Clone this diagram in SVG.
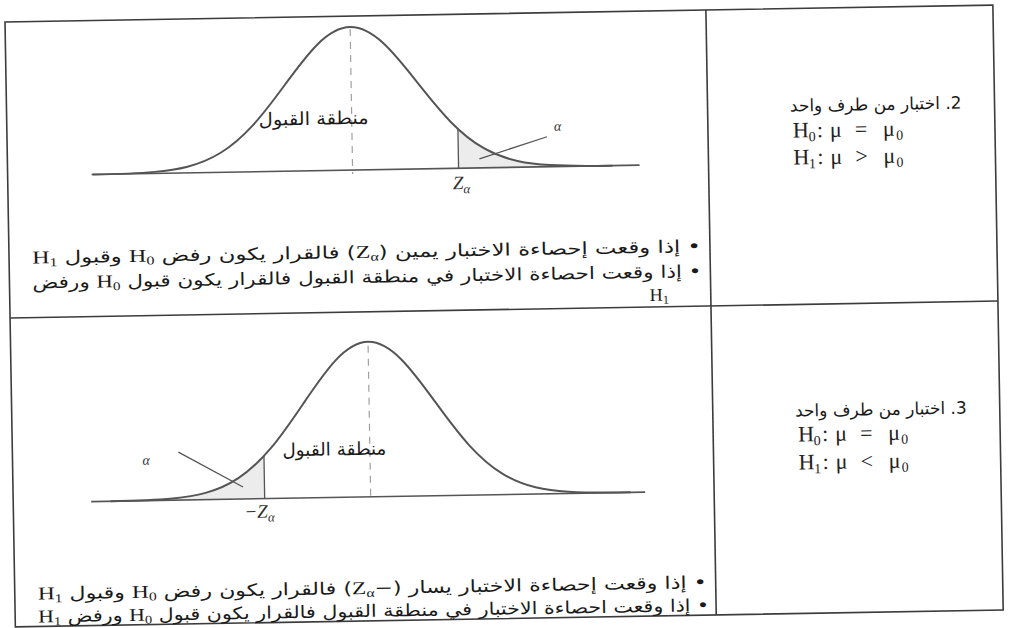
<svg xmlns="http://www.w3.org/2000/svg" xmlns:xlink="http://www.w3.org/1999/xlink" width="1009" height="628" viewBox="0 0 1009 628">
<style>
.frame{fill:none;stroke:#3c3c3c;stroke-width:1.6}
.curve{fill:none;stroke:#555;stroke-width:2}
.axis{stroke:#555;stroke-width:1.6}
.dash{stroke:#a0a0a0;stroke-width:1.2;stroke-dasharray:7 6}
.thin{stroke:#555;stroke-width:1.3}
.shade{fill:#ececec}
.ar{font-family:"DejaVu Sans",sans-serif;font-size:17px;fill:#1a1a1a}
.lat{font-family:"Liberation Serif",serif;font-size:18px}
.sub{font-size:12px}
.math{font-family:"Liberation Serif",serif;font-size:22px;fill:#222}
.msub{font-size:14px}
.it{font-family:"Liberation Serif",serif;font-style:italic;fill:#333}
</style>
<defs>
<path id="bell" vector-effect="non-scaling-stroke" d="M -260 0 C -239.33 0 -218.67 0.1 -198 1.59 C -176 3.17 -154 6.46 -132 19.35 C -121 25.8 -110 34.82 -99 46.43 C -88 58.04 -77 72.28 -66 86.73 C -55 101.18 -44 115.68 -33 126.2 C -22 136.72 -11 143 0 143 C 11 143 22 136.72 33 126.2 C 44 115.68 55 101.18 66 86.73 C 77 72.28 88 58.04 99 46.43 C 110 34.82 121 25.8 132 19.35 C 154 6.46 176 3.17 198 1.59 C 218.67 0.1 239.33 0 260 0"/>
<path id="tail" d="M 106 0 L 106 39.4 C 114.67 31.09 123.33 24.43 132 19.35 C 154 6.46 176 3.17 198 1.59 C 218.67 0.1 239.33 0 260 0 Z"/>
</defs>
<rect width="1009" height="628" fill="#fff"/>
<g transform="rotate(-0.98 5 22)">
<g id="table">
<rect class="frame" x="5" y="22" width="988" height="605"/>
<line class="frame" x1="706" y1="22" x2="706" y2="627"/>
<line class="frame" x1="5" y1="318" x2="993" y2="318"/>
</g>
<g id="graph-right-tail">
<use href="#tail" class="shade" transform="translate(350 176) scale(1 -1)"/>
<line class="axis" x1="89" y1="176" x2="637" y2="176"/>
<line class="dash" x1="350" y1="35" x2="350" y2="180"/>
<use href="#bell" class="curve" transform="translate(350 176) scale(1 -1)"/>
<line class="thin" x1="456" y1="136.6" x2="456" y2="176"/>
<line class="thin" x1="545" y1="146" x2="477" y2="167"/>
<text class="ar" x="312" y="130" text-anchor="middle" textLength="110" lengthAdjust="spacingAndGlyphs" style="font-size:18px">منطقة القبول</text>
<text class="it" x="552" y="140" style="font-size:14px">α</text>
<text class="it" x="450" y="197" style="font-size:19px">Z<tspan style="font-size:13px" dy="4">α</tspan></text>
</g>
<g id="case-2">
<text class="ar" x="960" y="125" direction="rtl" text-anchor="start">2. اختبار من طرف واحد</text>
<text class="math"><tspan x="791" y="151">H</tspan><tspan class="msub" x="806.5" y="155">0</tspan><tspan x="815" y="151">:</tspan><tspan x="828" y="151">μ</tspan><tspan x="853" y="151">=</tspan><tspan x="881" y="151">μ</tspan><tspan class="msub" x="894" y="155">0</tspan></text>
<text class="math"><tspan x="791" y="178">H</tspan><tspan class="msub" x="806.5" y="182">1</tspan><tspan x="815" y="178">:</tspan><tspan x="828" y="178">μ</tspan><tspan x="853" y="178">&gt;</tspan><tspan x="881" y="178">μ</tspan><tspan class="msub" x="894" y="182">0</tspan></text>
</g>
<g id="rules-2">
<text class="ar" x="697" y="264" direction="rtl" text-anchor="start" textLength="669" lengthAdjust="spacingAndGlyphs">• إذا وقعت إحصاءة الاختبار يمين (<tspan class="lat">Z</tspan><tspan class="lat sub" baseline-shift="-3">α</tspan>) فالقرار يكون رفض <tspan class="lat">H</tspan><tspan class="lat sub" baseline-shift="-3">0</tspan> وقبول <tspan class="lat">H</tspan><tspan class="lat sub" baseline-shift="-3">1</tspan></text>
<text class="ar" x="697" y="289" direction="rtl" text-anchor="start" textLength="669" lengthAdjust="spacingAndGlyphs">• إذا وقعت احصاءة الاختبار في منطقة القبول فالقرار يكون قبول <tspan class="lat">H</tspan><tspan class="lat sub" baseline-shift="-3">0</tspan> ورفض</text>
<text class="ar" x="664" y="312" text-anchor="end"><tspan class="lat">H</tspan><tspan class="lat sub" baseline-shift="-3">1</tspan></text>
</g>
<g id="graph-left-tail">
<use href="#tail" class="shade" transform="translate(362.5 503) scale(-1 -1.084)"/>
<line class="axis" x1="83" y1="503" x2="637" y2="503"/>
<line class="dash" x1="362.5" y1="352" x2="362.5" y2="507"/>
<use href="#bell" class="curve" transform="translate(362.5 503) scale(1 -1.084)"/>
<line class="thin" x1="256.5" y1="460.3" x2="256.5" y2="503"/>
<line class="thin" x1="171" y1="455" x2="235" y2="491"/>
<text class="ar" x="327" y="461" text-anchor="middle" textLength="104" lengthAdjust="spacingAndGlyphs" style="font-size:18px">منطقة القبول</text>
<text class="it" x="135" y="467" style="font-size:14px">α</text>
<text class="it" x="236" y="522" style="font-size:19px">−Z<tspan style="font-size:13px" dy="4">α</tspan></text>
</g>
<g id="case-3">
<text class="ar" x="960" y="430" direction="rtl" text-anchor="start">3. اختبار من طرف واحد</text>
<text class="math"><tspan x="791" y="455">H</tspan><tspan class="msub" x="806.5" y="459">0</tspan><tspan x="815" y="455">:</tspan><tspan x="828" y="455">μ</tspan><tspan x="853" y="455">=</tspan><tspan x="881" y="455">μ</tspan><tspan class="msub" x="894" y="459">0</tspan></text>
<text class="math"><tspan x="791" y="483">H</tspan><tspan class="msub" x="806.5" y="487">1</tspan><tspan x="815" y="483">:</tspan><tspan x="828" y="483">μ</tspan><tspan x="853" y="483">&lt;</tspan><tspan x="881" y="483">μ</tspan><tspan class="msub" x="894" y="487">0</tspan></text>
</g>
<g id="rules-3">
<text class="ar" x="697" y="600" direction="rtl" text-anchor="start" textLength="669" lengthAdjust="spacingAndGlyphs">• إذا وقعت إحصاءة الاختبار يسار (−<tspan class="lat">Z</tspan><tspan class="lat sub" baseline-shift="-3">α</tspan>) فالقرار يكون رفض <tspan class="lat">H</tspan><tspan class="lat sub" baseline-shift="-3">0</tspan> وقبول <tspan class="lat">H</tspan><tspan class="lat sub" baseline-shift="-3">1</tspan></text>
<text class="ar" x="699" y="623" direction="rtl" text-anchor="start" textLength="671" lengthAdjust="spacingAndGlyphs">• إذا وقعت احصاءة الاختبار في منطقة القبول فالقرار يكون قبول <tspan class="lat">H</tspan><tspan class="lat sub" baseline-shift="-3">0</tspan> ورفض <tspan class="lat">H</tspan><tspan class="lat sub" baseline-shift="-3">1</tspan></text>
</g>
</g>
</svg>
